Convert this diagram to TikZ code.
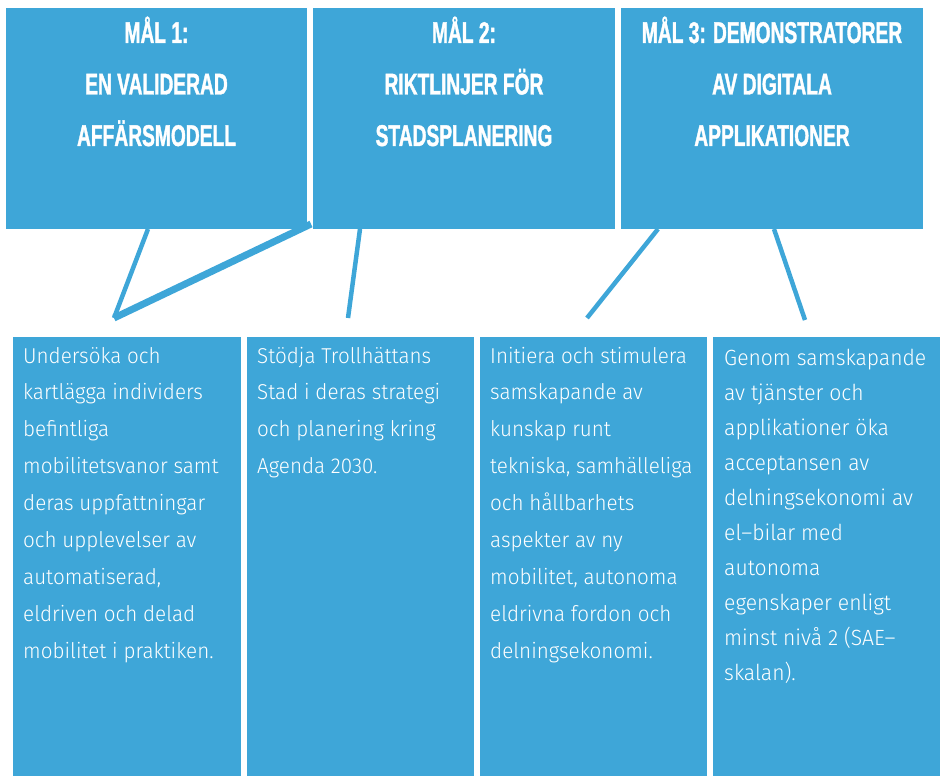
\documentclass[tikz,border=0pt]{standalone}
\usepackage{fontspec}
\newfontfamily\headfont[FakeStretch=0.64,FakeBold=1.2]{Liberation Sans Bold}
\newfontfamily\bodyfont[FakeStretch=0.96]{Fira Sans Light}
\definecolor{boxblue}{RGB}{62,166,216}
\tikzset{
  boxnode/.style={fill=boxblue, draw=none, inner sep=0, anchor=north west, rectangle},
  conn/.style={draw=boxblue, line width=4.5pt},
  connthick/.style={draw=boxblue, line width=7pt},
  headtxt/.style={anchor=base, inner sep=0, text=white},
  bodytxt/.style={anchor=base west, inner sep=0, text=white}
}
\newcommand{\headlines}[1]{\parbox[t]{296pt}{\centering\headfont\fontsize{30}{51.5}\selectfont #1}}
\newcommand{\bodylines}[1]{\parbox[t]{215pt}{\raggedright\bodyfont\fontsize{21.5}{36.9}\selectfont #1}}
\newcommand{\bodylinesD}[1]{\parbox[t]{220pt}{\raggedright\bodyfont\fontsize{22}{35}\selectfont #1}}
\begin{document}
\begin{tikzpicture}[x=1pt,y=-1pt]
\useasboundingbox (0,0) rectangle (940,776);
% top boxes
\node[boxnode, minimum width=301pt, minimum height=221pt] (m1) at (6,8) {};
\node[boxnode, minimum width=302pt, minimum height=221pt] (m2) at (313,8) {};
\node[boxnode, minimum width=302pt, minimum height=221pt] (m3) at (621,8) {};
% bottom boxes
\node[boxnode, minimum width=228pt, minimum height=439pt] (b1) at (13,337) {};
\node[boxnode, minimum width=227pt, minimum height=439pt] (b2) at (247,337) {};
\node[boxnode, minimum width=227pt, minimum height=439pt] (b3) at (480,337) {};
\node[boxnode, minimum width=227pt, minimum height=439pt] (b4) at (713,337) {};
% heading texts
\node[headtxt] (h1) at (156.5,43) {\headlines{MÅL 1:\\EN VALIDERAD\\AFFÄRSMODELL}};
\node[headtxt] (h2) at (464,43) {\headlines{MÅL 2:\\RIKTLINJER FÖR\\STADSPLANERING}};
\node[headtxt] (h3) at (772,43) {\headlines{MÅL 3: DEMONSTRATORER\\AV DIGITALA\\APPLIKATIONER}};
% body texts
\node[bodytxt] (t1) at (23,363) {\bodylines{Undersöka och\\kartlägga individers\\befintliga\\mobilitetsvanor samt\\deras uppfattningar\\och upplevelser av\\automatiserad,\\eldriven och delad\\mobilitet i praktiken.}};
\node[bodytxt] (t2) at (257,363) {\bodylines{Stödja Trollhättans\\Stad i deras strategi\\och planering kring\\Agenda 2030.}};
\node[bodytxt] (t3) at (490,363) {\bodylines{Initiera och stimulera\\samskapande av\\kunskap runt\\tekniska, samhälleliga\\och hållbarhets\\aspekter av ny\\mobilitet, autonoma\\eldrivna fordon och\\delningsekonomi.}};
\node[bodytxt] (t4) at (724,365) {\bodylinesD{Genom samskapande\\av tjänster och\\applikationer öka\\acceptansen av\\delningsekonomi av\\el–bilar med\\autonoma\\egenskaper enligt\\minst nivå 2 (SAE–\\skalan).}};
% connector end points
\coordinate (p1a) at (148,229);
\coordinate (p1b) at (114,318);
\coordinate (p1c) at (311,224);
\coordinate (p2a) at (360,229);
\coordinate (p2b) at (348,318);
\coordinate (p3a) at (658,229);
\coordinate (p3b) at (587,318);
\coordinate (p4a) at (774,229);
\coordinate (p4b) at (805,320);
\draw[conn] (p1a) -- (p1b);
\draw[connthick] (p1b) -- (p1c);
\draw[conn] (p2a) -- (p2b);
\draw[conn] (p3a) -- (p3b);
\draw[conn] (p4a) -- (p4b);
\end{tikzpicture}
\end{document}
